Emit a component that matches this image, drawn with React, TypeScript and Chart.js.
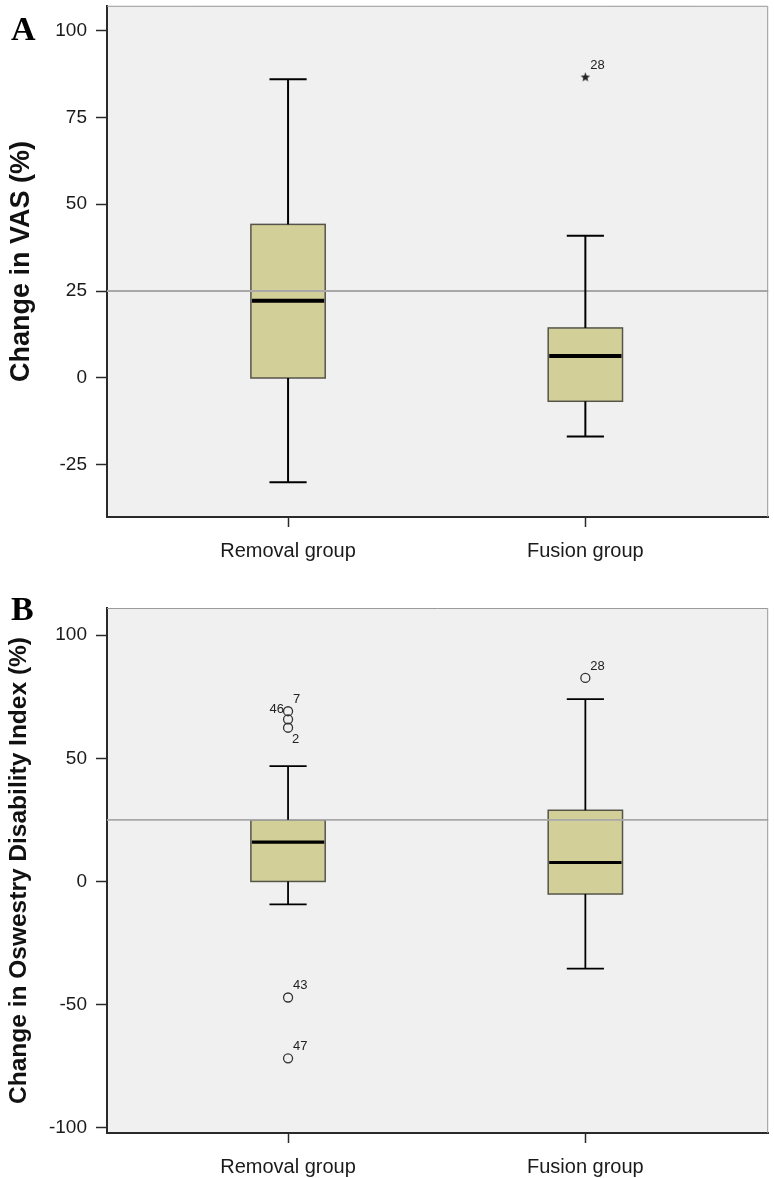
import React, { useEffect, useRef } from 'react';
import { Chart, registerables } from 'chart.js';

Chart.register(...registerables);

// ---------- data ----------
const GROUPS = ['Removal group', 'Fusion group'];
const REF_VALUE = 25;

// Panel A: Change in VAS (%)
const VAS_TICKS = [-25, 0, 25, 50, 75, 100];
const VAS_MIN = [-30, -16.8];
const VAS_Q1 = [0, -6.7];
const VAS_MEDIAN = [22.2, 6.3];
const VAS_Q3 = [44.2, 14.4];
const VAS_MAX = [86, 40.9];
const VAS_OUT_GROUP = [1];
const VAS_OUT_VALUE = [86.6];
const VAS_OUT_LABEL = ['28'];
const VAS_OUT_LEFT_LABEL = [''];
const VAS_OUT_SIDE = ['ur'];

// Panel B: Change in Oswestry Disability Index (%)
const ODI_TICKS = [-100, -50, 0, 50, 100];
const ODI_MIN = [-9.3, -35.4];
const ODI_Q1 = [0, -5.1];
const ODI_MEDIAN = [16, 7.7];
const ODI_Q3 = [25, 28.9];
const ODI_MAX = [46.8, 74];
const ODI_OUT_GROUP = [0, 0, 0, 0, 0, 1];
const ODI_OUT_VALUE = [69.1, 65.8, 62.4, -47.1, -71.8, 82.6];
const ODI_OUT_LABEL = ['7', '', '2', '43', '47', '28'];
const ODI_OUT_LEFT_LABEL = ['46', '', '', '', '', ''];
const ODI_OUT_SIDE = ['ur', 'ur', 'lr', 'ur', 'ur', 'ur'];

// ---------- styling ----------
const X_MIN = -0.609;
const X_MAX = 1.615;
const BOX_HALF = 0.125;
const CAP_HALF = 0.0625;
const BOX_FILL = '#D3CF99';
const BOX_EDGE = '#55554A';
const PLOT_BG = '#F0F0F0';
const AXIS_COLOR = '#2A2A2A';
const FONT = "'Liberation Sans', Arial, sans-serif";

const PANEL_A = {
  letter: 'A', letterY: 40,
  title: 'Change in VAS (%)', titleSize: 27,
  ticks: VAS_TICKS, yMin: -40, yMax: 107.1,
  min: VAS_MIN, q1: VAS_Q1, med: VAS_MEDIAN, q3: VAS_Q3, max: VAS_MAX,
  outGroup: VAS_OUT_GROUP, outValue: VAS_OUT_VALUE, outLabel: VAS_OUT_LABEL,
  outLeft: VAS_OUT_LEFT_LABEL, outSide: VAS_OUT_SIDE, marker: 'star',
  padTop: 0, xAxisHeight: 73, refWidth: 2, whiskerWidth: 2, medianWidth: 4,
};

const PANEL_B = {
  letter: 'B', letterY: 30,
  title: 'Change in Oswestry Disability Index (%)', titleSize: 24.5,
  ticks: ODI_TICKS, yMin: -102.1, yMax: 111,
  min: ODI_MIN, q1: ODI_Q1, med: ODI_MEDIAN, q3: ODI_Q3, max: ODI_MAX,
  outGroup: ODI_OUT_GROUP, outValue: ODI_OUT_VALUE, outLabel: ODI_OUT_LABEL,
  outLeft: ODI_OUT_LEFT_LABEL, outSide: ODI_OUT_SIDE, marker: 'circle',
  padTop: 18, xAxisHeight: 45, refWidth: 1.6, whiskerWidth: 1.8, medianWidth: 3.2,
};

function makeStar(): HTMLCanvasElement {
  const c = document.createElement('canvas');
  c.width = 11; c.height = 11;
  const g = c.getContext('2d')!;
  g.fillStyle = '#222';
  g.beginPath();
  const cx = 5.5, cy = 5.8, R = 5, r = 2.1;
  for (let k = 0; k < 10; k++) {
    const ang = -Math.PI / 2 + (k * Math.PI) / 5;
    const rad = k % 2 === 0 ? R : r;
    const px = cx + rad * Math.cos(ang), py = cy + rad * Math.sin(ang);
    if (k === 0) g.moveTo(px, py); else g.lineTo(px, py);
  }
  g.closePath();
  g.fill();
  return c;
}

function makePlugin(p: any) {
  return {
    id: 'boxplot' + p.letter,
    beforeDraw(chart: any) {
      const { ctx, chartArea: a } = chart;
      ctx.save();
      ctx.fillStyle = PLOT_BG;
      ctx.fillRect(a.left, a.top, a.right - a.left, a.bottom - a.top);
      ctx.restore();
    },
    beforeDatasetsDraw(chart: any) {
      const { ctx, chartArea: a } = chart;
      const x = chart.scales.x, y = chart.scales.y;
      ctx.save();
      // boxes
      for (let i = 0; i < GROUPS.length; i++) {
        const l = x.getPixelForValue(i - BOX_HALF);
        const r = x.getPixelForValue(i + BOX_HALF);
        const t = y.getPixelForValue(p.q3[i]);
        const b = y.getPixelForValue(p.q1[i]);
        ctx.fillStyle = BOX_FILL;
        ctx.fillRect(l, t, r - l, b - t);
        ctx.strokeStyle = BOX_EDGE;
        ctx.lineWidth = 1.5;
        ctx.strokeRect(l, t, r - l, b - t);
      }
      // reference line
      const ry = y.getPixelForValue(REF_VALUE);
      ctx.strokeStyle = '#A8A8A8';
      ctx.lineWidth = p.refWidth;
      ctx.beginPath();
      ctx.moveTo(a.left, ry);
      ctx.lineTo(a.right, ry);
      ctx.stroke();
      // whiskers and medians
      const line = (x1: number, y1: number, x2: number, y2: number) => {
        ctx.beginPath(); ctx.moveTo(x1, y1); ctx.lineTo(x2, y2); ctx.stroke();
      };
      for (let i = 0; i < GROUPS.length; i++) {
        const cx = x.getPixelForValue(i);
        const cl = x.getPixelForValue(i - CAP_HALF);
        const cr = x.getPixelForValue(i + CAP_HALF);
        const l = x.getPixelForValue(i - BOX_HALF);
        const r = x.getPixelForValue(i + BOX_HALF);
        ctx.strokeStyle = '#000';
        ctx.lineWidth = p.whiskerWidth;
        const yMax = y.getPixelForValue(p.max[i]);
        const yMin = y.getPixelForValue(p.min[i]);
        line(cx, y.getPixelForValue(p.q3[i]), cx, yMax);
        line(cx, y.getPixelForValue(p.q1[i]), cx, yMin);
        line(cl, yMax, cr, yMax);
        line(cl, yMin, cr, yMin);
        ctx.lineWidth = p.medianWidth;
        const ym = y.getPixelForValue(p.med[i]);
        line(l + 1, ym, r - 1, ym);
      }
      ctx.restore();
    },
    afterDatasetsDraw(chart: any) {
      const { ctx, chartArea: a } = chart;
      const x = chart.scales.x, y = chart.scales.y;
      ctx.save();
      ctx.font = `13px ${FONT}`;
      ctx.fillStyle = '#222';
      ctx.textBaseline = 'middle';
      for (let i = 0; i < p.outValue.length; i++) {
        const px = x.getPixelForValue(p.outGroup[i]);
        const py = y.getPixelForValue(p.outValue[i]);
        if (p.outLabel[i]) {
          ctx.textAlign = 'left';
          if (p.outSide[i] === 'lr') ctx.fillText(p.outLabel[i], px + 4, py + 12);
          else ctx.fillText(p.outLabel[i], px + 5, py - 12);
        }
        if (p.outLeft[i]) {
          ctx.textAlign = 'right';
          ctx.fillText(p.outLeft[i], px - 4, py - 2);
        }
      }
      // light frame top / right
      ctx.strokeStyle = '#9A9A9A';
      ctx.lineWidth = 1;
      ctx.beginPath();
      ctx.moveTo(a.left, a.top + 0.5);
      ctx.lineTo(a.right - 0.5, a.top + 0.5);
      ctx.lineTo(a.right - 0.5, a.bottom);
      ctx.stroke();
      // panel letter
      ctx.font = `bold 34px 'Liberation Serif', 'Times New Roman', serif`;
      ctx.fillStyle = '#000';
      ctx.textAlign = 'left';
      ctx.textBaseline = 'alphabetic';
      ctx.fillText(p.letter, 11, p.letterY);
      ctx.restore();
    },
  };
}

function buildConfig(p: any, star: HTMLCanvasElement): any {
  const pts = p.outGroup.map((g: number, i: number) => ({ x: g, y: p.outValue[i] }));
  return {
    type: 'scatter',
    data: {
      datasets: [
        {
          data: pts,
          pointStyle: p.marker === 'star' ? star : 'circle',
          pointRadius: 4.5,
          backgroundColor: 'rgba(0,0,0,0)',
          borderColor: '#333',
          borderWidth: 1.3,
        },
      ],
    },
    options: {
      animation: false,
      responsive: true,
      maintainAspectRatio: false,
      events: [],
      layout: { padding: { top: p.padTop, right: 2, left: 0, bottom: 0 } },
      plugins: { legend: { display: false }, tooltip: { enabled: false } },
      scales: {
        x: {
          type: 'linear',
          min: X_MIN,
          max: X_MAX,
          afterBuildTicks: (s: any) => {
            s.ticks = GROUPS.map((_, i) => ({ value: i }));
          },
          afterFit: (s: any) => {
            s.height = p.xAxisHeight;
            s.paddingLeft = 0;
            s.paddingRight = 0;
          },
          ticks: {
            callback: (v: any) => GROUPS[v] ?? '',
            font: { family: FONT, size: 20 },
            color: '#1A1A1A',
            padding: 12,
            maxRotation: 0,
            autoSkip: false,
          },
          grid: { drawOnChartArea: false, drawTicks: true, tickLength: 10, tickColor: AXIS_COLOR, tickWidth: 1.5 },
          border: { display: true, color: AXIS_COLOR, width: 2 },
        },
        y: {
          type: 'linear',
          min: p.yMin,
          max: p.yMax,
          afterBuildTicks: (s: any) => {
            s.ticks = p.ticks.map((v: number) => ({ value: v }));
          },
          afterFit: (s: any) => {
            s.width = 107;
            s.paddingTop = 0;
            s.paddingBottom = 0;
          },
          ticks: {
            font: { family: FONT, size: 19 },
            color: '#1A1A1A',
            padding: 9,
            autoSkip: false,
          },
          grid: { drawOnChartArea: false, drawTicks: true, tickLength: 11, tickColor: AXIS_COLOR, tickWidth: 1.5 },
          border: { display: true, color: AXIS_COLOR, width: 2 },
          title: {
            display: true,
            text: p.title,
            color: '#111',
            font: { family: FONT, size: p.titleSize, weight: 'bold', lineHeight: 1.2 },
            padding: { top: 5, bottom: 0 },
          },
        },
      },
    },
    plugins: [makePlugin(p)],
  };
}

export default function App() {
  const refA = useRef<HTMLCanvasElement>(null);
  const refB = useRef<HTMLCanvasElement>(null);

  useEffect(() => {
    const star = makeStar();
    const a = new Chart(refA.current!, buildConfig(PANEL_A, star));
    const b = new Chart(refB.current!, buildConfig(PANEL_B, star));
    return () => {
      a.destroy();
      b.destroy();
    };
  }, []);

  return (
    <div style={{ position: 'absolute', left: 0, top: 0, width: 774, height: 1178, background: '#fff' }}>
      <div style={{ position: 'absolute', left: 0, top: 0, width: 774, height: 590 }}>
        <canvas ref={refA} />
      </div>
      <div style={{ position: 'absolute', left: 0, top: 590, width: 774, height: 588 }}>
        <canvas ref={refB} />
      </div>
    </div>
  );
}
